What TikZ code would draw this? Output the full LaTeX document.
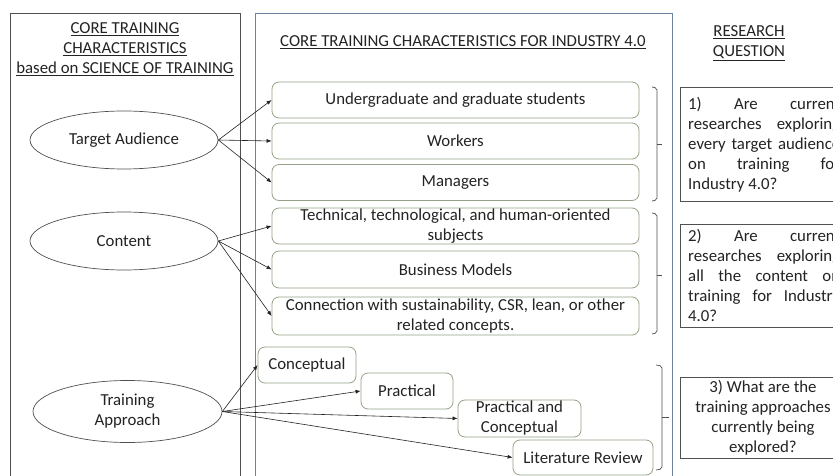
\documentclass[tikz,border=0pt]{standalone}
\usepackage{fontspec}
\setmainfont{Carlito}
\usetikzlibrary{shapes.geometric,arrows.meta}
\definecolor{ink}{RGB}{35,35,35}
\definecolor{frame}{RGB}{80,80,80}
\definecolor{panelblue}{RGB}{110,130,160}
\definecolor{boxgreen}{RGB}{150,162,135}
\tikzset{
  txt/.style={font=\fontsize{16.8}{20}\selectfont, text=ink},
  oval/.style={ellipse, draw=frame, line width=0.7pt, minimum width=188pt, minimum height=58pt, inner sep=0pt, align=center, txt},
  item/.style={rounded corners=7pt, draw=boxgreen, line width=0.8pt, inner sep=0pt, align=center, txt},
  link/.style={-{Latex[length=5pt,width=4pt]}, line width=0.6pt, draw=ink},
  brk/.style={draw=frame, line width=0.7pt, rounded corners=2pt},
  qbox/.style={draw=frame, line width=0.7pt},
}
\begin{document}
\begin{tikzpicture}[x=1pt,y=-1pt]
\useasboundingbox (0,0) rectangle (833,476);
\clip (0,0) rectangle (833,476);
\fill[white] (0,0) rectangle (833,476);

% panels
\draw[draw=frame, line width=0.7pt] (10,13) rectangle (240,490);
\draw[draw=panelblue, line width=0.7pt] (255,13) rectangle (672,490);

% headings
\node[txt, align=center] (lhead) at (125,49) {\underline{CORE TRAINING}\\ \underline{CHARACTERISTICS}\\ \underline{based on SCIENCE OF TRAINING}};
\node[txt] (mhead) at (463,42) {\underline{CORE TRAINING CHARACTERISTICS FOR INDUSTRY 4.0}};
\node[txt, align=center] (rhead) at (749,43) {\underline{RESEARCH}\\ \underline{QUESTION}};

% core characteristics
\node[oval] (ta) at (124,140) {Target Audience};
\node[oval] (ct) at (124,241) {Content};
\node[oval, minimum height=62pt, minimum width=189pt] (tr) at (127.5,411.5) {Training\\ Approach};

% target audience items
\node[item, minimum width=367pt, minimum height=36pt] (ug) at (455.5,100) {Undergraduate and graduate students};
\node[item, minimum width=367pt, minimum height=36pt] (wk) at (455.5,141) {Workers};
\node[item, minimum width=367pt, minimum height=36pt] (mg) at (455.5,182.5) {Managers};

% content items
\node[item, minimum width=367pt, minimum height=36pt] (tc) at (455.5,226) {Technical, technological, and human-oriented\\ subjects};
\node[item, minimum width=367pt, minimum height=37pt] (bm) at (455.5,269.5) {Business Models};
\node[item, minimum width=367pt, minimum height=38pt] (cn) at (455.5,316) {Connection with sustainability, CSR, lean, or other\\ related concepts.};

% training approach items
\node[item, minimum width=98pt, minimum height=36pt] (cc) at (307,365) {Conceptual};
\node[item, minimum width=92pt, minimum height=36pt] (pr) at (407,391) {Practical};
\node[item, minimum width=123pt, minimum height=37pt] (pc) at (519.5,418.5) {Practical and\\ Conceptual};
\node[item, minimum width=140pt, minimum height=35pt] (lr) at (583,457.5) {Literature Review};

% connectors
\foreach \t in {ug,wk,mg} \draw[link] (ta.east) -- (\t.west);
\foreach \t in {tc,bm,cn} \draw[link] (ct.east) -- (\t.west);
\foreach \t in {cc,pr,pc,lr} \draw[link] (tr.east) -- (\t.west);

% brackets
\draw[brk] (652,87) -- (657,88) -- (657,200) -- (652,201);
\coordinate (b1) at (662,144);
\draw[draw=frame, line width=0.7pt] (657,144) -- (b1);
\draw[brk] (652,213) -- (657,214) -- (657,333) -- (652,334);
\coordinate (b2) at (662,275);
\draw[draw=frame, line width=0.7pt] (657,275) -- (b2);
\draw[brk] (656,365) -- (662,366) -- (662,469) -- (656,470);
\coordinate (b3) at (669,417);
\draw[draw=frame, line width=0.7pt] (662,417) -- (b3);

% research questions
\draw[qbox] (680,87) rectangle (850,201);
\node[txt, anchor=west, text width=152pt, align=justify, inner sep=0pt] (q1) at (688,144.5)
  {1) Are current\linebreak researches exploring\linebreak every target audience\linebreak on training for\linebreak Industry 4.0?};
\draw[qbox] (680,224) rectangle (850,327);
\node[txt, anchor=west, text width=152pt, align=justify, inner sep=0pt] (q2) at (688,275.5)
  {2) Are current\linebreak researches exploring\linebreak all the content on\linebreak training for Industry\linebreak 4.0?};
\draw[qbox] (680,377) rectangle (850,458);
\node[txt, align=center] (q3) at (763,417.5) {3) What are the\\ training approaches\\ currently being\\ explored?};
\end{tikzpicture}
\end{document}
